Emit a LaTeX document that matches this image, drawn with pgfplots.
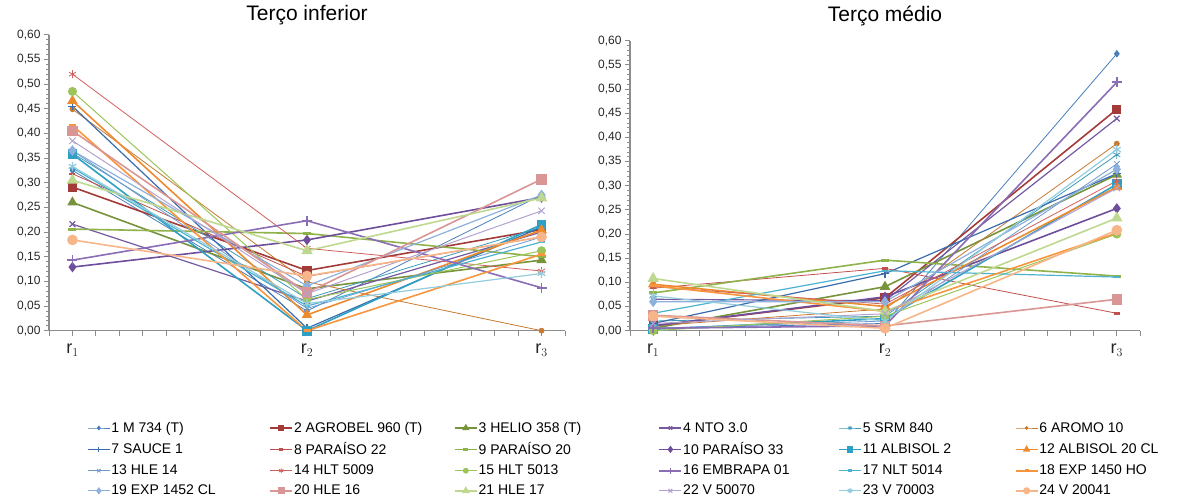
\documentclass[border=0pt]{standalone}
\usepackage{fontspec}
\setmainfont{Liberation Sans}
\usepackage{pgfplots}
\usepackage{pgfplotstable}
\pgfplotsset{compat=1.18}

\definecolor{axgray}{HTML}{8C8C8C}
\definecolor{c1}{HTML}{4A7EBB}
\definecolor{c2}{HTML}{A33B38}
\definecolor{c3}{HTML}{77933C}
\definecolor{c4}{HTML}{7459A0}
\definecolor{c5}{HTML}{3A9AB8}
\definecolor{c6}{HTML}{C77A32}
\definecolor{c7}{HTML}{3A6CAB}
\definecolor{c8}{HTML}{C0504D}
\definecolor{c9}{HTML}{8FB24A}
\definecolor{c10}{HTML}{6E4E9B}
\definecolor{c11}{HTML}{2F9FC4}
\definecolor{c12}{HTML}{EE8A2E}
\definecolor{c13}{HTML}{6F98CC}
\definecolor{c14}{HTML}{D0605C}
\definecolor{c15}{HTML}{9CC45A}
\definecolor{c16}{HTML}{8A6DB5}
\definecolor{c17}{HTML}{4CB2CF}
\definecolor{c18}{HTML}{F7963F}
\definecolor{c19}{HTML}{8DB0DD}
\definecolor{c20}{HTML}{D99694}
\definecolor{c21}{HTML}{BFD88F}
\definecolor{c22}{HTML}{B3A2CF}
\definecolor{c23}{HTML}{93CDDD}
\definecolor{c24}{HTML}{F7B68A}

% Terço inferior
\pgfplotstableread{
r s1 s2 s3 s4 s5 s6 s7 s8 s9 s10 s11 s12 s13 s14 s15 s16 s17 s18 s19 s20 s21 s22 s23 s24
1 0.325 0.291 0.260 0.216 0.360 0.449 0.455 0.318 0.206 0.129 0.358 0.466 0.365 0.520 0.485 0.143 0.330 0.416 0.365 0.405 0.305 0.385 0.333 0.184
2 0.040 0.122 0.085 0.060 0.065 0.099 0.005 0.110 0.197 0.184 0.000 0.032 0.045 0.167 0.063 0.223 0.050 0.000 0.091 0.077 0.162 0.075 0.055 0.111
3 0.275 0.205 0.143 0.200 0.210 0.000 0.210 0.190 0.150 0.270 0.215 0.204 0.190 0.121 0.162 0.087 0.180 0.155 0.275 0.307 0.269 0.243 0.116 0.190
}\tabL

% Terço médio
\pgfplotstableread{
r s1 s2 s3 s4 s5 s6 s7 s8 s9 s10 s11 s12 s13 s14 s15 s16 s17 s18 s19 s20 s21 s22 s23 s24
1 0.005 0.010 0.005 0.065 0.020 0.010 0.015 0.088 0.078 0.010 0.003 0.096 0.005 0.091 0.000 0.005 0.036 0.093 0.060 0.032 0.108 0.015 0.072 0.030
2 0.015 0.068 0.091 0.062 0.030 0.045 0.118 0.129 0.146 0.070 0.025 0.050 0.020 0.055 0.030 0.010 0.124 0.040 0.060 0.010 0.040 0.035 0.020 0.005
3 0.573 0.458 0.323 0.439 0.364 0.387 0.325 0.036 0.113 0.253 0.303 0.297 0.345 0.310 0.200 0.514 0.111 0.202 0.334 0.065 0.233 0.295 0.375 0.208
}\tabM

\pgfplotscreateplotcyclelist{xl}{
c1,line width=0.8pt,mark=diamond*,mark size=3.2pt\\
c2,line width=1.6pt,mark=square*,mark size=3.8pt\\
c3,line width=1.6pt,mark=triangle*,mark size=4.5pt\\
c4,line width=1.2pt,mark=x,mark size=4pt\\
c5,line width=0.8pt,mark=asterisk,mark size=4pt\\
c6,line width=0.8pt,mark=*,mark size=2.5pt\\
c7,line width=1.2pt,mark=+,mark size=4pt\\
c8,line width=0.8pt,mark=-,mark size=3pt,mark options={line width=2.5pt}\\
c9,line width=1.6pt,mark=-,mark size=4pt,mark options={line width=3pt}\\
c10,line width=1.6pt,mark=diamond*,mark size=4pt\\
c11,line width=1.6pt,mark=square*,mark size=4pt\\
c12,line width=1.6pt,mark=triangle*,mark size=4.5pt\\
c13,line width=0.8pt,mark=x,mark size=4pt\\
c14,line width=0.8pt,mark=asterisk,mark size=4pt\\
c15,line width=1.0pt,mark=*,mark size=4pt\\
c16,line width=1.6pt,mark=+,mark size=5pt\\
c17,line width=1.2pt,mark=-,mark size=3pt,mark options={line width=2.5pt}\\
c18,line width=1.6pt,mark=-,mark size=3.5pt,mark options={line width=3pt}\\
c19,line width=1.2pt,mark=diamond*,mark size=4.5pt\\
c20,line width=1.6pt,mark=square*,mark size=4.5pt\\
c21,line width=1.6pt,mark=triangle*,mark size=5pt\\
c22,line width=1.0pt,mark=x,mark size=4.5pt\\
c23,line width=1.2pt,mark=asterisk,mark size=4.5pt\\
c24,line width=1.6pt,mark=*,mark size=4.5pt\\
}

\newcommand\lb[2]{\makebox[#1pt][l]{#2}}

\pgfplotsset{panel/.style={
  scale only axis, clip=false,
  xmin=0.9, xmax=3.1, ymin=0, ymax=0.6,
  axis x line=bottom, axis y line=left,
  axis line style={-,draw=axgray,line width=1.3pt},
  xtick={0.9,1,1.1,1.2,1.3,1.4,1.5,1.6,1.7,1.8,1.9,2,2.1,2.2,2.3,2.4,2.5,2.6,2.7,2.8,2.9,3,3.1},
  xticklabels={},
  extra x ticks={1,2,3},
  extra x tick labels={$\mathrm{r}_1$,$\mathrm{r}_2$,$\mathrm{r}_3$},
  extra x tick style={major tick length=0pt, tick label style={font=\fontsize{18}{18}\selectfont, yshift=-10pt}},
  ytick={0,0.05,0.1,0.15,0.2,0.25,0.3,0.35,0.4,0.45,0.5,0.55,0.6},
  minor y tick num=4,
  tick align=outside, major tick length=5pt, minor tick length=3pt,
  tick style={draw=axgray,line width=0.9pt},
  minor tick style={draw=axgray,line width=0.7pt},
  tick label style={font=\fontsize{12}{12}\selectfont, color=black!85},
  yticklabel style={/pgf/number format/.cd,fixed,fixed zerofill,precision=2,use comma},
  /pgf/number format/assume math mode=true,
  title style={font=\fontsize{21}{21}\selectfont, at={(0.5,1)}, anchor=base},
  cycle list name=xl,
}}

\begin{document}
\begin{tikzpicture}
\useasboundingbox (0pt,0pt) rectangle (1203pt,501pt);

\begin{axis}[panel, at={(49pt,170.3pt)}, anchor=south west,
  width=516pt, height=296pt,
  title={Terço inferior}, title style={yshift=8pt},
  legend columns=6,
  legend style={draw=none, inner sep=0pt, column sep=0pt, row sep=6.8pt,
    nodes={inner sep=1pt},
    font=\fontsize{14}{14}\selectfont,
    at={(axis description cs:0.0737,-0.305)}, anchor=north west},
  legend cell align=left,
  legend image code/.code={\draw[mark repeat=2,mark phase=2,every mark/.append style={scale=0.6}] plot coordinates {(0pt,0pt) (11pt,0pt) (22pt,0pt)};},
  legend entries={
    \lb{157}{1 M 734 (T)},\lb{159}{2 AGROBEL 960 (T)},\lb{179}{3 HELIO 358 (T)},\lb{154}{4 NTO 3.0},\lb{151}{5 SRM 840},\lb{150}{6 AROMO 10},
    7 SAUCE 1,8 PARAÍSO 22,9 PARAÍSO 20,10 PARAÍSO 33,11 ALBISOL 2,12 ALBISOL 20 CL,
    13 HLE 14,14 HLT 5009,15 HLT 5013,16 EMBRAPA 01,17 NLT 5014,18 EXP 1450 HO,
    19 EXP 1452 CL,20 HLE 16,21 HLE 17,22 V 50070,23 V 70003,24 V 20041}]
\pgfplotsinvokeforeach{1,...,24}{\addplot table[x=r,y=s#1]{\tabL};}
\end{axis}

\begin{axis}[panel, at={(630pt,170.3pt)}, anchor=south west,
  width=510pt, height=290pt,
  title={Terço médio}, title style={yshift=13.7pt}]
\pgfplotsinvokeforeach{1,...,24}{\addplot table[x=r,y=s#1]{\tabM};}
\end{axis}
\end{tikzpicture}
\end{document}
